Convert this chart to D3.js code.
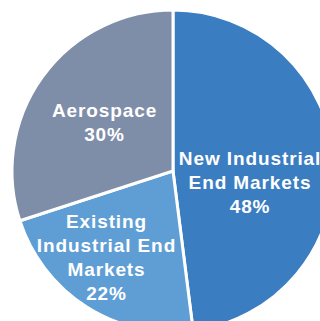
<!DOCTYPE html>
<html>
<head>
<meta charset="utf-8">
<script src="https://cdn.jsdelivr.net/npm/d3@7"></script>
<style>
  html, body { margin: 0; padding: 0; background: #fff; overflow: hidden; }
  svg { display: block; }
</style>
</head>
<body>
<svg id="chart"></svg>
<script>
const segments = ["New Industrial End Markets", "Existing Industrial End Markets", "Aerospace"];
const shares = [48, 22, 30];
// label lines as printed on the chart
const labelLines = [
  ["New Industrial", "End Markets", "48%"],
  ["Existing", "Industrial End", "Markets", "22%"],
  ["Aerospace", "30%"]
];
const colors = ["#3b7dc1", "#5f9ed4", "#7f8ea8"];

const width = 320;
const height = 321;
const cx = 173;
const cy = 171;
const radius = 161;

// label placement: angle (deg, clockwise from top) and distance from centre
const labelPlace = [
  { angle: 99, dist: 78 },
  { angle: 217.4, dist: 109.5 },
  { angle: 305, dist: 83.6 }
];

const data = segments.map((s, i) => ({ name: s, value: shares[i], i: i }));

const svg = d3.select("#chart").attr("width", width).attr("height", height);
const g = svg.append("g").attr("transform", "translate(" + cx + "," + cy + ")");

const pie = d3.pie().value(d => d.value).sort(null);
const arc = d3.arc().innerRadius(0).outerRadius(radius);

const arcs = pie(data);

g.selectAll("path")
  .data(arcs)
  .enter()
  .append("path")
  .attr("d", arc)
  .attr("fill", d => colors[d.data.i])
  .attr("stroke", "#fff")
  .attr("stroke-width", 3)
  .attr("stroke-linejoin", "miter");

const lineH = 24;

arcs.forEach((d, i) => {
  const p = labelPlace[i];
  const a = p.angle * Math.PI / 180;
  const x = Math.sin(a) * p.dist;
  const y = -Math.cos(a) * p.dist;
  const lines = labelLines[i];
  const t = g.append("text")
    .attr("text-anchor", "middle")
    .attr("fill", "#fff")
    .style("font-family", "'Liberation Sans', Arial, sans-serif")
    .style("font-weight", "bold")
    .style("font-size", "19px")
    .style("letter-spacing", "0.9px");
  lines.forEach((ln, k) => {
    t.append("tspan")
      .attr("x", x)
      .attr("y", y + (k - (lines.length - 1) / 2) * lineH + 6)
      .text(ln);
  });
});
</script>
</body>
</html>
